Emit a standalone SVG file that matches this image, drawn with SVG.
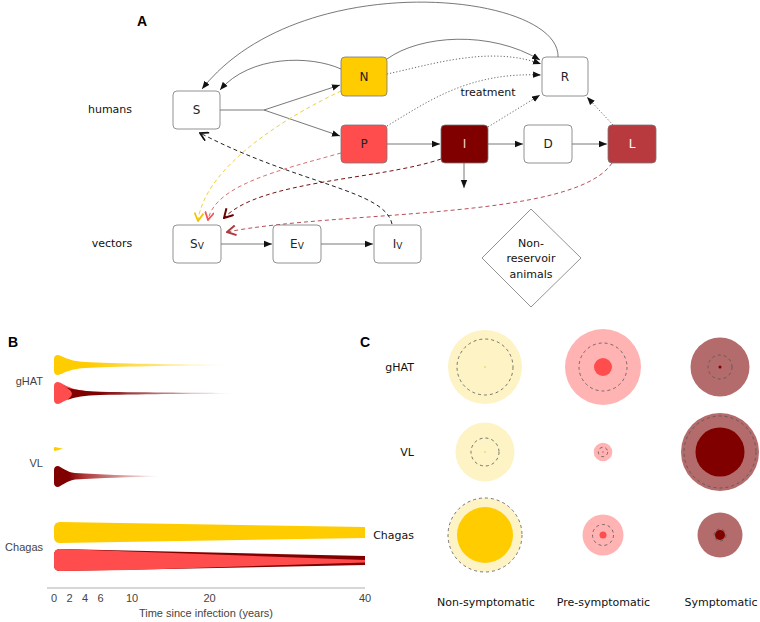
<svg xmlns="http://www.w3.org/2000/svg" width="760" height="622" viewBox="0 0 760 622">
<style>
.box{stroke:#777;stroke-width:0.8}
.lbl{font-family:"DejaVu Sans",sans-serif;font-size:12px;fill:#222;text-anchor:middle}
.txt{font-family:"DejaVu Sans",sans-serif;font-size:11px;fill:#111}
.btxt{font-family:"Liberation Sans",Arial,sans-serif;font-size:11px;fill:#444}
.head{font-family:"Liberation Sans",Arial,sans-serif;font-size:14px;font-weight:bold;fill:#000}
.sol{fill:none;stroke:#555;stroke-width:0.8}
.dot{fill:none;stroke:#555;stroke-width:0.9;stroke-dasharray:1.2 2}
.dsh{fill:none;stroke-width:1;stroke-dasharray:4 3}
.dc{fill:none;stroke:#555;stroke-width:0.8;stroke-dasharray:3 3}
</style>
<defs>
<marker id="ah" viewBox="0 0 10 10" refX="10" refY="5" markerWidth="8" markerHeight="8" orient="auto" markerUnits="userSpaceOnUse"><path d="M0,1 L10,5 L0,9 Z" fill="#111"/></marker>
<marker id="cY" viewBox="0 0 10 10" refX="9" refY="5" markerWidth="10" markerHeight="10" orient="auto" markerUnits="userSpaceOnUse"><path d="M1,0.5 L9,5 L1,9.5" fill="none" stroke="#f2c400" stroke-width="1.8"/></marker>
<marker id="cP" viewBox="0 0 10 10" refX="9" refY="5" markerWidth="10" markerHeight="10" orient="auto" markerUnits="userSpaceOnUse"><path d="M1,0.5 L9,5 L1,9.5" fill="none" stroke="#f05555" stroke-width="1.8"/></marker>
<marker id="cI" viewBox="0 0 10 10" refX="9" refY="5" markerWidth="11" markerHeight="11" orient="auto" markerUnits="userSpaceOnUse"><path d="M1,0.5 L9,5 L1,9.5" fill="none" stroke="#6a0000" stroke-width="1.8"/></marker>
<marker id="cL" viewBox="0 0 10 10" refX="9" refY="5" markerWidth="11" markerHeight="11" orient="auto" markerUnits="userSpaceOnUse"><path d="M1,0.5 L9,5 L1,9.5" fill="none" stroke="#b03a3f" stroke-width="1.8"/></marker>
<marker id="cK" viewBox="0 0 10 10" refX="9" refY="5" markerWidth="10" markerHeight="10" orient="auto" markerUnits="userSpaceOnUse"><path d="M1,0.5 L9,5 L1,9.5" fill="none" stroke="#111" stroke-width="1.8"/></marker>
<linearGradient id="gY" gradientUnits="userSpaceOnUse" x1="54" y1="0" x2="232" y2="0"><stop offset="0" stop-color="#ffcc00"/><stop offset="0.2" stop-color="#ffcc00"/><stop offset="1" stop-color="#ffcc00" stop-opacity="0"/></linearGradient>
<linearGradient id="gD" gradientUnits="userSpaceOnUse" x1="54" y1="0" x2="232" y2="0"><stop offset="0" stop-color="#800000"/><stop offset="0.25" stop-color="#800000"/><stop offset="1" stop-color="#800000" stop-opacity="0"/></linearGradient>
<linearGradient id="gR" gradientUnits="userSpaceOnUse" x1="54" y1="0" x2="110" y2="0"><stop offset="0" stop-color="#ff4d4d"/><stop offset="0.6" stop-color="#ff4d4d"/><stop offset="1" stop-color="#ff4d4d" stop-opacity="0"/></linearGradient>
<linearGradient id="gV" gradientUnits="userSpaceOnUse" x1="54" y1="0" x2="158" y2="0"><stop offset="0" stop-color="#800000"/><stop offset="0.14" stop-color="#800000"/><stop offset="0.3" stop-color="#b03a3a"/><stop offset="1" stop-color="#b03a3a" stop-opacity="0"/></linearGradient>
</defs>

<text class="head" x="137" y="26">A</text>
<text class="txt" x="110" y="113" text-anchor="middle">humans</text>
<text class="txt" x="112" y="247" text-anchor="middle">vectors</text>
<text class="txt" x="488" y="96" text-anchor="middle">treatment</text>

<g id="connectors">
<path class="sol" d="M558 57 C560 -8 300 -35 202 89" marker-end="url(#ah)"/>
<path class="sol" d="M341 69 C310 55 250 55 220 90" marker-end="url(#ah)"/>
<path class="sol" d="M387 59 C420 35 490 30 540 60" marker-end="url(#ah)"/>
<path class="dot" d="M387 74 C430 65 490 45 541 64" marker-end="url(#ah)"/>
<path class="dot" d="M387 126 C430 100 470 72 541 75" marker-end="url(#ah)"/>
<path class="dot" d="M488 127 L540 95" marker-end="url(#ah)"/>
<path class="dot" d="M613 125 L587 97" marker-end="url(#ah)"/>
<path class="sol" d="M220 110 L264 110 L340 85" marker-end="url(#ah)"/>
<path class="sol" d="M264 110 L340 136" marker-end="url(#ah)"/>
<path class="sol" d="M387 144 L440 144" marker-end="url(#ah)"/>
<path class="sol" d="M488 144 L523 144" marker-end="url(#ah)"/>
<path class="sol" d="M572 144 L607 144" marker-end="url(#ah)"/>
<path class="sol" d="M464 163 L464 188" marker-end="url(#ah)"/>
<path class="sol" d="M221 244 L272 244" marker-end="url(#ah)"/>
<path class="sol" d="M321 244 L373 244" marker-end="url(#ah)"/>
<path class="dsh" stroke="#f0d040" d="M341 91 C290 115 205 165 198 221" marker-end="url(#cY)"/>
<path class="dsh" stroke="#d87070" d="M341 153 C280 170 215 185 208 220" marker-end="url(#cP)"/>
<path class="dsh" stroke="#7a1010" d="M441 159 C380 180 260 180 224 218" marker-end="url(#cI)"/>
<path class="dsh" stroke="#b85058" d="M612 163 C575 220 340 210 227 232" marker-end="url(#cL)"/>
<path class="dsh" stroke="#222" d="M392 224 C385 190 300 185 200 133" marker-end="url(#cK)"/>
</g>

<g id="node-S"><rect class="box" x="173" y="91" width="47" height="38" rx="4" fill="#fff"/><text class="lbl" x="196.5" y="114">S</text></g>
<g id="node-N"><rect class="box" x="341" y="57" width="46" height="39" rx="4" fill="#ffcc00" stroke="#c9a200"/><text class="lbl" x="364" y="81">N</text></g>
<g id="node-P"><rect class="box" x="341" y="125" width="46" height="38" rx="4" fill="#ff4d4d" stroke="#c83a3a"/><text class="lbl" x="364" y="148">P</text></g>
<g id="node-R"><rect class="box" x="542" y="57" width="46" height="39" rx="4" fill="#fff"/><text class="lbl" x="565" y="81">R</text></g>
<g id="node-I"><rect class="box" x="441" y="125" width="47" height="38" rx="4" fill="#800000" stroke="#5a0000"/><text class="lbl" x="464.5" y="148" style="fill:#ffd0d0">I</text></g>
<g id="node-D"><rect class="box" x="524" y="125" width="48" height="38" rx="4" fill="#fff"/><text class="lbl" x="548" y="148">D</text></g>
<g id="node-L"><rect class="box" x="608" y="125" width="48" height="38" rx="4" fill="#b83a3f" stroke="#8e2a2e"/><text class="lbl" x="632" y="148" style="fill:#fff">L</text></g>
<g id="node-Sv"><rect class="box" x="173" y="225" width="48" height="38" rx="4" fill="#fff"/><text class="lbl" x="197" y="248">S<tspan font-size="9" dy="1">V</tspan></text></g>
<g id="node-Ev"><rect class="box" x="273" y="225" width="48" height="38" rx="4" fill="#fff"/><text class="lbl" x="297" y="248">E<tspan font-size="9" dy="1">V</tspan></text></g>
<g id="node-Iv"><rect class="box" x="374" y="225" width="47" height="38" rx="4" fill="#fff"/><text class="lbl" x="397.5" y="248">I<tspan font-size="9" dy="1">V</tspan></text></g>
<g id="node-animals"><polygon class="box" points="531,209 581,258 531,307 482,258" fill="#fff"/>
<text class="txt" x="531" y="247" text-anchor="middle">Non-</text>
<text class="txt" x="531" y="262" text-anchor="middle">reservoir</text>
<text class="txt" x="531" y="278" text-anchor="middle">animals</text></g>

<g id="panelB">
<text class="head" x="8" y="347">B</text>
<text class="btxt" x="43" y="385" text-anchor="end">gHAT</text>
<text class="btxt" x="43" y="467" text-anchor="end">VL</text>
<text class="btxt" x="43" y="551" text-anchor="end">Chagas</text>
<path fill="url(#gY)" d="M58 355 C63 356 68 361 85 362 C110 363.5 180 364.5 232 364.8 L232 365.2 C180 365.5 110 366.5 85 368 C68 369 63 374 58 375 C55 375 54 373 54 371 L54 359 C54 357 55 355 58 355 Z"/>
<path fill="url(#gR)" d="M58 382 C63 383 68 389 85 391 L110 392.5 L110 393.5 L85 395 C68 397 63 403 58 404 C55 404 54 402 54 400 L54 386 C54 384 55 382 58 382 Z"/>
<path fill="url(#gD)" d="M61 385 C68 389 80 391 100 391.8 C150 392.6 200 392.8 232 393 L232 393.5 C200 393.7 150 394.2 100 395 C85 395.5 75 397 67 400 C76 394 72 390 61 385 Z"/>
<path fill="#ffcc00" d="M55 447 L63 448.8 L55 451 Q54 451 54 450 L54 448 Q54 447 55 447 Z"/>
<path fill="url(#gV)" d="M58 466 C62 467 66 472 75 473 C100 474.5 130 475.5 158 476 L158 476.5 C130 477 100 478 75 479.5 C66 481 62 486 58 487 C55 487 54 485 54 483 L54 470 C54 468 55 466 58 466 Z"/>
<path fill="#ffcc00" d="M60 522 L365 527 L365 538 L60 543 Q54 543 54 537 L54 528 Q54 522 60 522 Z"/>
<path fill="#800000" d="M60 549 L365 556 L365 565 L60 571 Q54 571 54 565 L54 555 Q54 549 60 549 Z"/>
<path fill="#ff4d4d" d="M60 549 L68 549.3 L365 560 L365 562.5 L130 570 L60 571 Q54 571 54 565 L54 555 Q54 549 60 549 Z"/>
<line x1="47" y1="588" x2="365" y2="588" stroke="#999" stroke-width="0.8"/>
<g class="btxt" text-anchor="middle">
<text x="54" y="602">0</text><text x="69.5" y="602">2</text><text x="85" y="602">4</text><text x="100.6" y="602">6</text><text x="132" y="602">10</text><text x="209.5" y="602">20</text><text x="365" y="602">40</text>
<text x="206" y="617">Time since infection (years)</text>
</g>
</g>

<g id="panelC">
<text class="head" x="360" y="347">C</text>
<text class="txt" x="414" y="371" text-anchor="end">gHAT</text>
<text class="txt" x="414" y="456" text-anchor="end">VL</text>
<text class="txt" x="414" y="539" text-anchor="end">Chagas</text>
<circle cx="485" cy="367" r="37" fill="#fdf3c4"/><circle class="dc" cx="485" cy="367" r="28"/><circle cx="485" cy="367" r="1" fill="#f5d870"/>
<circle cx="603" cy="367" r="38" fill="#ffb3b3"/><circle class="dc" cx="603" cy="367" r="24"/><circle cx="603" cy="367" r="9" fill="#ff4d4d"/>
<circle cx="720" cy="367" r="29.5" fill="#b36b6b"/><circle class="dc" cx="720" cy="367" r="12"/><circle cx="720" cy="367" r="1.5" fill="#800000"/>
<circle cx="485" cy="452" r="29.5" fill="#fdf3c4"/><circle class="dc" cx="485" cy="452" r="14"/><circle cx="485" cy="452" r="1" fill="#f5d870"/>
<circle cx="603" cy="452" r="9.3" fill="#ffb3b3"/><circle class="dc" cx="603" cy="452" r="4.7" stroke-dasharray="2 2"/><circle cx="603" cy="452" r="0.8" fill="#ff4d4d"/>
<circle cx="720" cy="452" r="39" fill="#b36b6b"/><circle class="dc" cx="720" cy="452" r="36"/><circle cx="720" cy="452" r="24.5" fill="#800000"/>
<circle cx="485" cy="535" r="37" fill="#fdf3c4"/><circle class="dc" cx="485" cy="535" r="37"/><circle cx="485" cy="535" r="28" fill="#ffcc00"/>
<circle cx="603" cy="535" r="20.5" fill="#ffb3b3"/><circle class="dc" cx="603" cy="535" r="10.5"/><circle cx="603" cy="535" r="3.5" fill="#ff4d4d"/>
<circle cx="720" cy="535" r="22.5" fill="#b36b6b"/><circle class="dc" cx="720" cy="535" r="6"/><circle cx="720" cy="535" r="5" fill="#800000"/>
<text class="txt" x="486" y="606" text-anchor="middle">Non-symptomatic</text>
<text class="txt" x="603.5" y="606" text-anchor="middle">Pre-symptomatic</text>
<text class="txt" x="721" y="606" text-anchor="middle">Symptomatic</text>
</g>
</svg>
